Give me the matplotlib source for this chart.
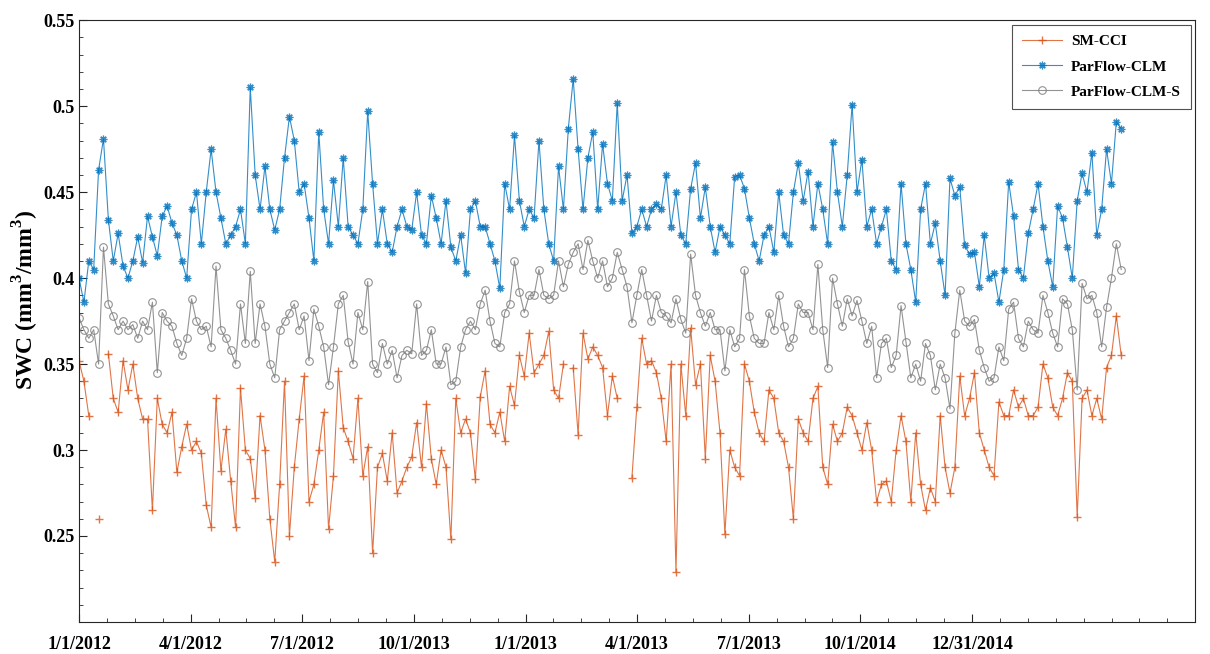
import numpy as np
import matplotlib
matplotlib.use('Agg')
import matplotlib.pyplot as plt
from matplotlib.ticker import MultipleLocator

nan = np.nan

# tick dates (as labelled in the original figure)
tick_labels = ['1/1/2012', '4/1/2012', '7/1/2012', '10/1/2013', '1/1/2013',
               '4/1/2013', '7/1/2013', '10/1/2014', '12/31/2014']
tick_days = [0, 91.25, 182.5, 273.75, 365, 456.25, 547.5, 638.75, 730]

# soil water content, one value every 4 days
sm_cci = [
    0.352, 0.34, 0.32, nan, 0.26, nan, 0.356, 0.33, 0.322, 0.352,
    0.335, 0.35, 0.33, 0.318, 0.318, 0.265, 0.33, 0.315, 0.31, 0.322,
    0.287, 0.302, 0.315, 0.3, 0.305, 0.298, 0.268, 0.255, 0.33, 0.288,
    0.312, 0.282, 0.255, 0.336, 0.3, 0.295, 0.272, 0.32, 0.3, 0.26,
    0.235, 0.28, 0.34, 0.25, 0.29, 0.318, 0.343, 0.27, 0.28, 0.3,
    0.322, 0.254, 0.285, 0.346, 0.313, 0.305, 0.295, 0.33, 0.285, 0.302,
    0.24, 0.29, 0.298, 0.282, 0.31, 0.275, 0.282, 0.29, 0.296, 0.316,
    0.29, 0.327, 0.295, 0.28, 0.3, 0.29, 0.248, 0.33, 0.31, 0.318,
    0.31, 0.283, 0.331, 0.346, 0.315, 0.31, 0.322, 0.305, 0.337, 0.326,
    0.355, 0.343, 0.368, 0.345, 0.35, 0.355, 0.369, 0.335, 0.33, 0.35,
    nan, 0.348, 0.309, 0.368, 0.353, 0.36, 0.355, 0.348, 0.32, 0.343,
    0.33, nan, nan, 0.284, 0.325, 0.365, 0.35, 0.352, 0.345, 0.33,
    0.305, 0.35, 0.229, 0.35, 0.32, 0.371, 0.338, 0.35, 0.295, 0.355,
    0.34, 0.31, 0.251, 0.3, 0.29, 0.285, 0.35, 0.34, 0.322, 0.31,
    0.305, 0.335, 0.33, 0.31, 0.305, 0.29, 0.26, 0.318, 0.31, 0.305,
    0.33, 0.337, 0.29, 0.28, 0.315, 0.305, 0.31, 0.325, 0.32, 0.31,
    0.3, 0.316, 0.3, 0.27, 0.28, 0.282, 0.27, 0.3, 0.32, 0.305,
    0.27, 0.31, 0.28, 0.265, 0.278, 0.27, 0.32, 0.29, 0.275, 0.29,
    0.343, 0.32, 0.33, 0.345, 0.31, 0.3, 0.29, 0.285, 0.328, 0.32,
    0.32, 0.335, 0.325, 0.33, 0.32, 0.32, 0.325, 0.35, 0.342, 0.325,
    0.32, 0.33, 0.345, 0.34, 0.261, 0.33, 0.335, 0.32, 0.33, 0.318,
    0.348, 0.355, 0.378, 0.355,
]

parflow_clm = [
    0.40, 0.386, 0.41, 0.405, 0.463, 0.481, 0.434, 0.41, 0.426, 0.407,
    0.40, 0.41, 0.424, 0.409, 0.436, 0.424, 0.413, 0.436, 0.442, 0.432,
    0.425, 0.41, 0.40, 0.44, 0.45, 0.42, 0.45, 0.475, 0.45, 0.435,
    0.42, 0.425, 0.43, 0.44, 0.42, 0.511, 0.46, 0.44, 0.465, 0.44,
    0.428, 0.44, 0.47, 0.494, 0.48, 0.45, 0.455, 0.435, 0.41, 0.485,
    0.44, 0.42, 0.457, 0.43, 0.47, 0.43, 0.425, 0.42, 0.44, 0.497,
    0.455, 0.42, 0.44, 0.42, 0.415, 0.43, 0.44, 0.43, 0.428, 0.45,
    0.425, 0.42, 0.448, 0.435, 0.42, 0.445, 0.418, 0.41, 0.425, 0.403,
    0.44, 0.445, 0.43, 0.43, 0.42, 0.41, 0.394, 0.455, 0.44, 0.483,
    0.445, 0.43, 0.44, 0.435, 0.48, 0.44, 0.42, 0.41, 0.465, 0.44,
    0.487, 0.516, 0.475, 0.44, 0.47, 0.485, 0.44, 0.478, 0.455, 0.445,
    0.502, 0.445, 0.46, 0.426, 0.43, 0.44, 0.43, 0.44, 0.443, 0.44,
    0.46, 0.43, 0.45, 0.425, 0.42, 0.452, 0.467, 0.435, 0.453, 0.43,
    0.415, 0.43, 0.425, 0.42, 0.459, 0.46, 0.452, 0.435, 0.42, 0.41,
    0.425, 0.43, 0.415, 0.45, 0.425, 0.42, 0.45, 0.467, 0.445, 0.462,
    0.43, 0.455, 0.44, 0.42, 0.479, 0.45, 0.43, 0.46, 0.501, 0.45,
    0.469, 0.43, 0.44, 0.42, 0.43, 0.44, 0.41, 0.405, 0.455, 0.42,
    0.405, 0.386, 0.44, 0.455, 0.42, 0.432, 0.41, 0.39, 0.458, 0.448,
    0.453, 0.419, 0.414, 0.415, 0.395, 0.425, 0.40, 0.403, 0.386, 0.405,
    0.456, 0.436, 0.405, 0.40, 0.426, 0.44, 0.455, 0.43, 0.41, 0.395,
    0.442, 0.435, 0.418, 0.40, 0.445, 0.461, 0.45, 0.473, 0.425, 0.44,
    0.475, 0.455, 0.491, 0.487,
]

parflow_clm_s = [
    0.377, 0.37, 0.365, 0.37, 0.35, 0.418, 0.385, 0.378, 0.37, 0.375,
    0.37, 0.373, 0.365, 0.375, 0.37, 0.386, 0.345, 0.38, 0.375, 0.372,
    0.362, 0.355, 0.365, 0.388, 0.375, 0.37, 0.372, 0.36, 0.407, 0.37,
    0.365, 0.358, 0.35, 0.385, 0.362, 0.404, 0.362, 0.385, 0.372, 0.35,
    0.342, 0.37, 0.375, 0.38, 0.385, 0.37, 0.378, 0.352, 0.382, 0.372,
    0.36, 0.338, 0.36, 0.385, 0.39, 0.363, 0.35, 0.38, 0.37, 0.398,
    0.35, 0.345, 0.362, 0.35, 0.358, 0.342, 0.355, 0.358, 0.356, 0.385,
    0.355, 0.358, 0.37, 0.35, 0.35, 0.36, 0.338, 0.34, 0.36, 0.37,
    0.375, 0.37, 0.385, 0.393, 0.375, 0.362, 0.36, 0.38, 0.385, 0.41,
    0.392, 0.38, 0.39, 0.39, 0.405, 0.39, 0.388, 0.39, 0.41, 0.395,
    0.408, 0.415, 0.42, 0.405, 0.422, 0.41, 0.40, 0.41, 0.395, 0.40,
    0.415, 0.405, 0.395, 0.374, 0.39, 0.405, 0.39, 0.375, 0.39, 0.38,
    0.378, 0.374, 0.388, 0.376, 0.368, 0.414, 0.39, 0.38, 0.372, 0.38,
    0.37, 0.37, 0.346, 0.37, 0.36, 0.365, 0.405, 0.378, 0.365, 0.362,
    0.362, 0.38, 0.37, 0.39, 0.372, 0.36, 0.365, 0.385, 0.38, 0.38,
    0.37, 0.408, 0.37, 0.348, 0.40, 0.385, 0.372, 0.388, 0.378, 0.387,
    0.375, 0.362, 0.372, 0.342, 0.362, 0.365, 0.348, 0.355, 0.384, 0.363,
    0.342, 0.35, 0.34, 0.362, 0.355, 0.335, 0.35, 0.342, 0.324, 0.368,
    0.393, 0.375, 0.372, 0.376, 0.358, 0.348, 0.34, 0.342, 0.36, 0.352,
    0.382, 0.386, 0.365, 0.36, 0.375, 0.37, 0.368, 0.39, 0.38, 0.368,
    0.36, 0.388, 0.385, 0.37, 0.335, 0.397, 0.388, 0.39, 0.38, 0.36,
    0.383, 0.40, 0.42, 0.405,
]

days = np.arange(len(parflow_clm)) * 4.0

plt.rcParams['font.family'] = ['Liberation Serif', 'DejaVu Serif']
plt.rcParams['font.weight'] = 'bold'
plt.rcParams['mathtext.fontset'] = 'custom'
plt.rcParams['mathtext.rm'] = 'Liberation Serif:bold'
plt.rcParams['mathtext.bf'] = 'Liberation Serif:bold'

fig = plt.figure(figsize=(12.1, 6.54), dpi=100)
ax = fig.add_axes([0.0653, 0.049, 0.9225, 0.920])

# MATLAB-like asterisk for ParFlow-CLM
asterisk = (8, 2, 0)

ax.plot(days, sm_cci, '-', color='#D95319', lw=0.8, alpha=0.8,
        marker='+', ms=6, mew=1.0, label='SM-CCI')
ax.plot(days, parflow_clm, '-', color='#0072BD', lw=0.8, alpha=0.8,
        marker=asterisk, ms=5.5, mew=0.9, label='ParFlow-CLM')
ax.plot(days, parflow_clm_s, '-', color='#808080', lw=0.8, alpha=0.85,
        marker='o', ms=5.5, mew=0.8, mfc='none', label='ParFlow-CLM-S')

ax.set_xlim(0, 912.5)
ax.set_ylim(0.2, 0.55)
ax.set_xticks(tick_days)
ax.set_xticklabels(tick_labels)
ax.xaxis.set_minor_locator(MultipleLocator(91.25 / 4))
ax.set_yticks([0.25, 0.3, 0.35, 0.4, 0.45, 0.5, 0.55])
ax.set_yticklabels(['0.25', '0.3', '0.35', '0.4', '0.45', '0.5', '0.55'])
ax.yaxis.set_minor_locator(MultipleLocator(0.01))

ax.tick_params(which='both', direction='in', labelsize=13, colors='#262626',
               top=False, right=False)
ax.tick_params(which='major', length=6, width=0.8)
ax.tick_params(which='minor', length=3, width=0.6)
ax.tick_params(axis='x', pad=10)
for lab in ax.get_xticklabels() + ax.get_yticklabels():
    lab.set_fontweight('bold')
    lab.set_color('black')
for s in ax.spines.values():
    s.set_color('#262626')
    s.set_linewidth(0.8)

ax.set_ylabel(r'SWC (mm$^\mathbf{3}$/mm$^\mathbf{3}$)', fontsize=17,
              fontweight='bold')
ax.yaxis.set_label_coords(-0.034, 0.535)

leg = ax.legend(loc='upper right', fontsize=11, frameon=True, fancybox=False,
                edgecolor='#262626', borderaxespad=0.3, handlelength=2.6,
                labelspacing=0.75, borderpad=0.65, handletextpad=0.6)
leg.get_frame().set_linewidth(0.8)
for t in leg.get_texts():
    t.set_fontweight('bold')

fig.savefig('out.png', dpi=100, facecolor='white')
